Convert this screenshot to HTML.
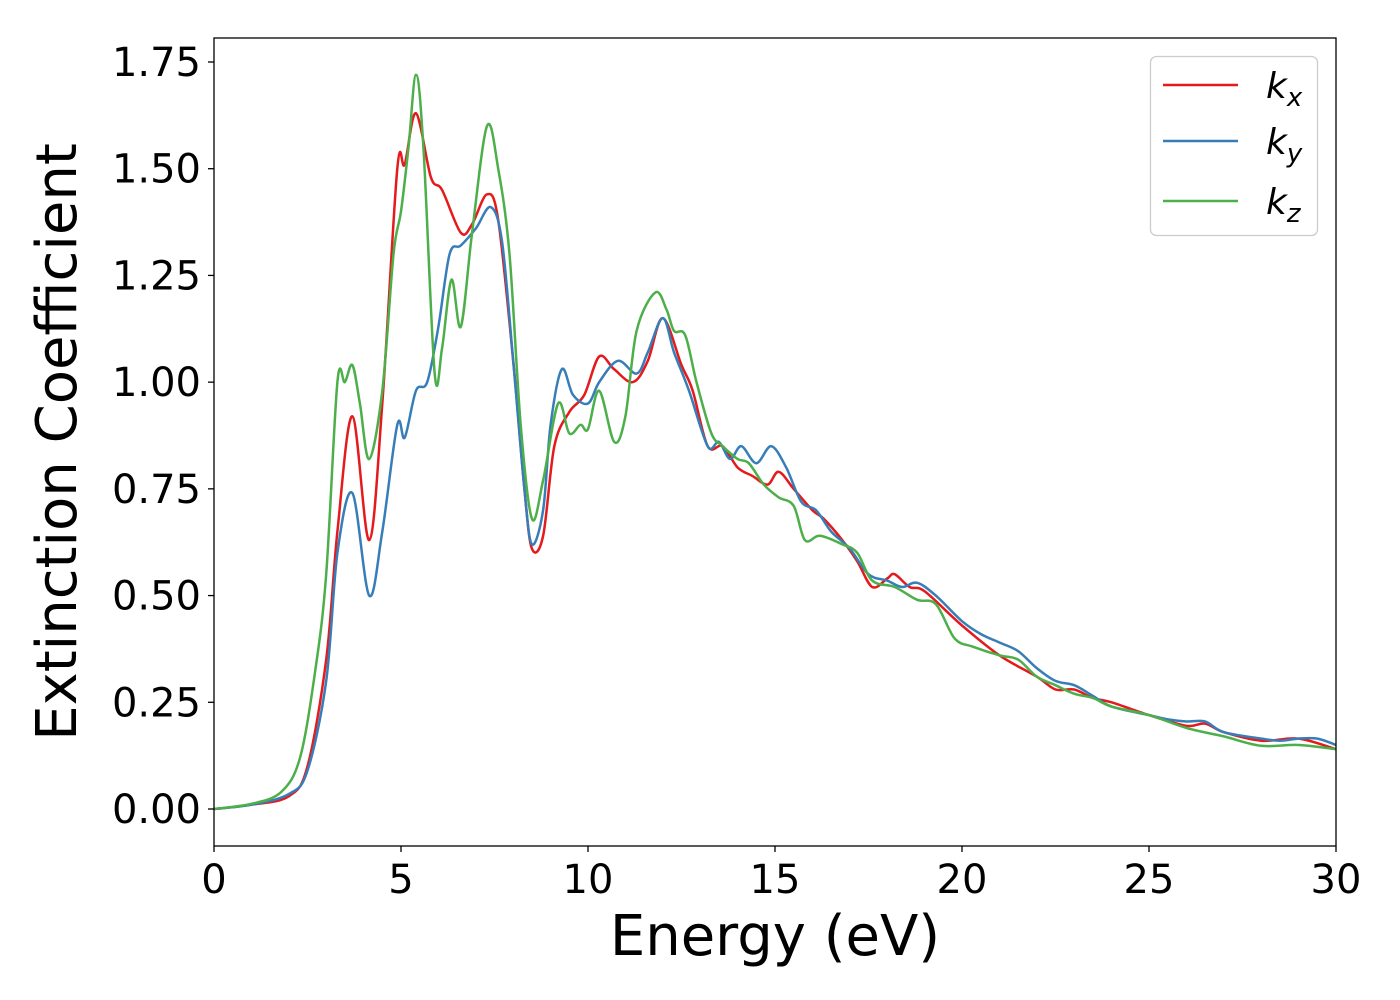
<!DOCTYPE html>
<html><head><meta charset="utf-8"><style>
html,body{margin:0;padding:0;background:#fff;}
svg{display:block;font-family:"DejaVu Sans","Liberation Sans",sans-serif;}
</style></head><body>
<svg id="chart" width="1400" height="1000" viewBox="0 0 1400 1000">
<rect x="0" y="0" width="1400" height="1000" fill="#fff"/>
<g id="series"></g>
<rect x="214" y="38" width="1122" height="808" fill="none" stroke="#000" stroke-width="1.3"/>
<g id="xticks"></g>
<g id="yticks"></g>
<text x="775" y="955" font-size="56" text-anchor="middle">Energy (eV)</text>
<text transform="translate(76,442) rotate(-90)" font-size="56" text-anchor="middle">Extinction Coefficient</text>
<g>
<rect x="1150.5" y="56.5" width="167" height="179" rx="6" fill="#fff" fill-opacity="0.8" stroke="#ccc" stroke-width="1.3"/>
<line x1="1163" y1="85" x2="1238" y2="85" stroke="#e41a1c" stroke-width="2.5"/>
<text x="1266" y="98" font-size="36" font-style="italic">k<tspan font-size="26" dy="8">x</tspan></text>
<line x1="1163" y1="141" x2="1238" y2="141" stroke="#377eb8" stroke-width="2.5"/>
<text x="1266" y="154" font-size="36" font-style="italic">k<tspan font-size="26" dy="8">y</tspan></text>
<line x1="1163" y1="201" x2="1238" y2="201" stroke="#4daf4a" stroke-width="2.5"/>
<text x="1266" y="214" font-size="36" font-style="italic">k<tspan font-size="26" dy="8">z</tspan></text>
</g>
</svg>
<script>
const xTicks=[0,5,10,15,20,25,30];
const yTicks=[0,0.25,0.5,0.75,1.0,1.25,1.5,1.75];
const kxE=[0,1,2,2.5,3,3.3,3.7,4.15,4.5,4.9,5.1,5.4,5.8,6.1,6.6,6.9,7.3,7.6,8.0,8.3,8.5,8.8,9.1,9.5,9.9,10.3,10.7,11.2,11.6,12.0,12.5,12.8,13.2,13.6,14.0,14.4,14.8,15.1,15.5,16.0,16.3,16.8,17.2,17.6,18.0,18.2,18.6,19.0,20,21,22,22.5,23,23.5,24,25,26,26.5,27,28,29,30];
const kxV=[0,0.01,0.03,0.10,0.35,0.65,0.92,0.63,0.95,1.50,1.51,1.63,1.48,1.45,1.35,1.37,1.44,1.38,1.05,0.75,0.61,0.64,0.85,0.93,0.97,1.06,1.03,1.00,1.05,1.15,1.04,0.98,0.85,0.85,0.80,0.78,0.76,0.79,0.75,0.70,0.68,0.63,0.58,0.52,0.54,0.55,0.52,0.51,0.43,0.36,0.31,0.28,0.28,0.26,0.25,0.22,0.195,0.20,0.18,0.16,0.165,0.14];
const kyE=[0,1,2,2.5,3,3.3,3.7,4.15,4.5,4.9,5.1,5.4,5.7,6.0,6.3,6.6,7.0,7.4,7.7,8.0,8.3,8.5,8.8,9.0,9.3,9.6,10.0,10.3,10.8,11.3,11.6,12.0,12.3,12.7,13.2,13.5,13.8,14.1,14.5,14.9,15.3,15.7,16.1,16.5,17.0,17.5,18.0,18.4,18.8,19.3,20,20.5,21,21.5,22,22.5,23,23.5,24,25,25.5,26,26.5,27,28,28.5,29,29.5,30];
const kyV=[0,0.01,0.035,0.09,0.30,0.60,0.74,0.50,0.65,0.90,0.87,0.98,1.00,1.13,1.30,1.32,1.36,1.41,1.33,1.05,0.75,0.62,0.70,0.90,1.03,0.97,0.95,1.00,1.05,1.02,1.07,1.15,1.07,0.98,0.85,0.86,0.82,0.85,0.81,0.85,0.80,0.72,0.70,0.65,0.61,0.55,0.535,0.52,0.53,0.50,0.44,0.41,0.39,0.37,0.33,0.30,0.29,0.265,0.24,0.22,0.21,0.205,0.205,0.18,0.165,0.16,0.165,0.165,0.15];
const kzE=[0,1,1.8,2.3,2.7,3.0,3.3,3.5,3.7,3.9,4.15,4.5,4.8,5.0,5.2,5.4,5.6,5.9,6.1,6.35,6.6,6.9,7.3,7.6,7.9,8.2,8.5,8.8,9.2,9.5,9.8,10.0,10.3,10.7,11.0,11.3,11.8,12.1,12.3,12.6,12.9,13.3,13.6,14.0,14.3,14.7,15.1,15.5,15.8,16.2,16.8,17.2,17.6,18.2,18.8,19.3,19.8,20.3,21,21.5,22,22.5,23,23.5,24,25,26,27,28,29,30];
const kzV=[0,0.012,0.04,0.12,0.32,0.55,1.00,1.00,1.04,0.95,0.82,0.98,1.30,1.40,1.55,1.72,1.55,1.02,1.08,1.24,1.13,1.35,1.60,1.50,1.30,0.90,0.68,0.77,0.95,0.88,0.90,0.89,0.98,0.86,0.92,1.12,1.21,1.17,1.12,1.11,1.00,0.88,0.85,0.82,0.81,0.76,0.73,0.71,0.63,0.64,0.62,0.60,0.535,0.52,0.49,0.48,0.40,0.38,0.36,0.35,0.31,0.29,0.27,0.26,0.24,0.22,0.19,0.17,0.148,0.15,0.14];

const X0=214,X1=1336,Y0=809,Y1=62;
function sx(e){return X0+(X1-X0)*e/30;}
function sy(v){return Y0+(Y1-Y0)*v/1.75;}
const NS='http://www.w3.org/2000/svg';
function pathFor(E,V){
  const p=E.map((e,i)=>[sx(e),sy(V[i])]);
  let d='M'+p[0][0].toFixed(1)+','+p[0][1].toFixed(1);
  for(let i=0;i<p.length-1;i++){
    const a=p[Math.max(0,i-1)],b=p[i],c=p[i+1],n=p[Math.min(p.length-1,i+2)];
    const c1=[b[0]+(c[0]-a[0])/6,b[1]+(c[1]-a[1])/6];
    const c2=[c[0]-(n[0]-b[0])/6,c[1]-(n[1]-b[1])/6];
    d+=' C'+c1[0].toFixed(1)+','+c1[1].toFixed(1)+' '+c2[0].toFixed(1)+','+c2[1].toFixed(1)+' '+c[0].toFixed(1)+','+c[1].toFixed(1);
  }
  return d;
}
const sg=document.getElementById('series');
[[kxE,kxV,'#e41a1c','line-kx'],[kyE,kyV,'#377eb8','line-ky'],[kzE,kzV,'#4daf4a','line-kz']].forEach(s=>{
  const el=document.createElementNS(NS,'path');
  el.setAttribute('d',pathFor(s[0],s[1]));
  el.setAttribute('fill','none');el.setAttribute('stroke',s[2]);el.setAttribute('stroke-width','2.5');
  
  
  sg.appendChild(el);
});
const xg=document.getElementById('xticks');
xTicks.forEach(t=>{
  const l=document.createElementNS(NS,'line');
  l.setAttribute('x1',sx(t));l.setAttribute('x2',sx(t));l.setAttribute('y1',846);l.setAttribute('y2',852);l.setAttribute('stroke','#000');l.setAttribute('stroke-width','1.3');
  
  
  xg.appendChild(l);
  const tx=document.createElementNS(NS,'text');
  tx.setAttribute('x',sx(t));tx.setAttribute('y',893);tx.setAttribute('font-size','40');tx.setAttribute('text-anchor','middle');
  tx.textContent=String(t);
  
  
  xg.appendChild(tx);
});
const yg=document.getElementById('yticks');
yTicks.forEach(t=>{
  const l=document.createElementNS(NS,'line');
  l.setAttribute('x1',208);l.setAttribute('x2',214);l.setAttribute('y1',sy(t));l.setAttribute('y2',sy(t));l.setAttribute('stroke','#000');l.setAttribute('stroke-width','1.3');
  
  
  yg.appendChild(l);
  const tx=document.createElementNS(NS,'text');
  tx.setAttribute('x',201);tx.setAttribute('y',sy(t)+14);tx.setAttribute('font-size','40');tx.setAttribute('text-anchor','end');
  tx.textContent=t.toFixed(2);
  
  
  yg.appendChild(tx);
});
</script>
</body></html>
